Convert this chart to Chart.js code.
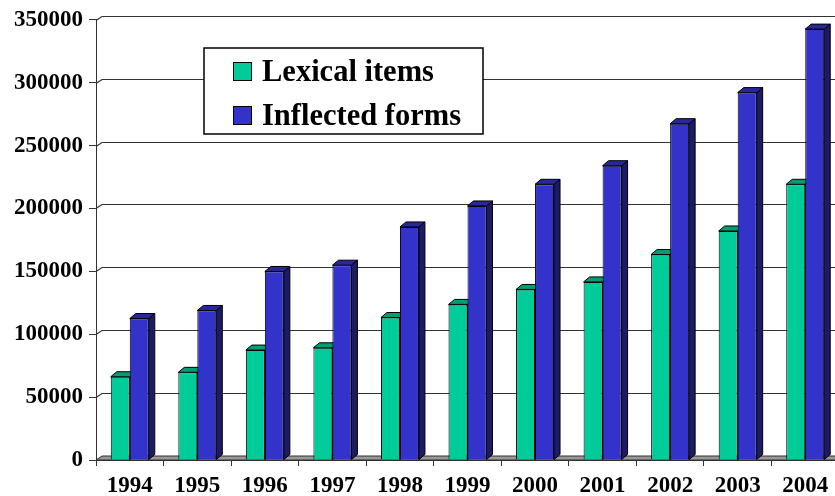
<!DOCTYPE html>
<html>
<head>
<meta charset="utf-8">
<script src="https://cdn.jsdelivr.net/npm/chart.js@4.4.1/dist/chart.umd.min.js"></script>
<style>
  html, body { margin: 0; padding: 0; background: #fff; overflow: hidden; }
  #wrap { width: 839px; height: 496px; }
</style>
</head>
<body>
<div id="wrap"><canvas id="chart"></canvas></div>
<script>
// data
var years          = ['1994', '1995', '1996', '1997', '1998', '1999', '2000', '2001', '2002', '2003', '2004'];
var lexicalItems   = [66200, 69700, 87400, 89200, 113300, 123700, 135600, 141600, 163400, 182100, 219200];
var inflectedForms = [112500, 118900, 149900, 154900, 185300, 202000, 219200, 234000, 267400, 292100, 342600];
var seriesNames    = ['Lexical items', 'Inflected forms'];
var yMax  = 350000;
var yStep = 50000;

var serif = "'Liberation Serif', 'Times New Roman', serif";
var DX = 6, DY = 5;   // fake 3d depth of the bars
var GX = 6, GY = 4;   // depth of the back wall / floor

// walls, floor and the side/top faces of the bars (front faces are drawn by chart.js on top)
var depthPlugin = {
    id: 'depth',
    beforeDatasetsDraw: function(chart) {
        var ctx = chart.ctx, area = chart.chartArea, y = chart.scales.y;
        ctx.save();

        // gridlines on the back wall
        ctx.strokeStyle = '#333';
        ctx.lineWidth = 1.2;
        y.ticks.forEach(function(t) {
            if (t.value === 0) return;
            var py = Math.round(y.getPixelForValue(t.value)) + 0.5;
            ctx.beginPath();
            ctx.moveTo(area.left, py);
            ctx.lineTo(area.left + GX, py - GY);
            ctx.lineTo(area.right + GX, py - GY);
            ctx.stroke();
        });

        // floor
        var b = area.bottom;
        ctx.beginPath();
        ctx.moveTo(area.left, b);
        ctx.lineTo(area.left + GX, b - GY);
        ctx.lineTo(area.right + GX, b - GY);
        ctx.lineTo(area.right, b);
        ctx.closePath();
        ctx.fillStyle = '#999';
        ctx.fill();
        ctx.lineWidth = 1;
        ctx.strokeStyle = '#303030';
        ctx.stroke();

        // bar depth faces
        ctx.strokeStyle = '#000';
        chart.data.datasets.forEach(function(ds, i) {
            var meta = chart.getDatasetMeta(i);
            meta.data.forEach(function(bar) {
                var p = bar.getProps(['x', 'y', 'base', 'width'], true);
                var l = p.x - p.width / 2, r = p.x + p.width / 2;
                // right side
                ctx.beginPath();
                ctx.moveTo(r, p.y);
                ctx.lineTo(r + DX, p.y - DY);
                ctx.lineTo(r + DX, p.base - DY);
                ctx.lineTo(r, p.base);
                ctx.closePath();
                ctx.fillStyle = ds.sideColor;
                ctx.fill();
                ctx.stroke();
                // top
                ctx.beginPath();
                ctx.moveTo(l, p.y);
                ctx.lineTo(l + DX, p.y - DY);
                ctx.lineTo(r + DX, p.y - DY);
                ctx.lineTo(r, p.y);
                ctx.closePath();
                ctx.fillStyle = ds.topColor;
                ctx.fill();
                ctx.stroke();
            });
        });
        ctx.restore();
    },
    afterDatasetsDraw: function(chart) {
        // boxed legend inside the plot
        var ctx = chart.ctx;
        ctx.save();
        ctx.fillStyle = '#fff';
        ctx.fillRect(204, 48, 279, 86);
        ctx.strokeStyle = '#000';
        ctx.lineWidth = 1.5;
        ctx.strokeRect(204, 48, 279, 86);
        ctx.font = 'bold 30.5px ' + serif;
        ctx.textBaseline = 'alphabetic';
        ctx.textAlign = 'left';
        var rows = [62, 106];
        chart.data.datasets.forEach(function(ds, i) {
            ctx.fillStyle = ds.backgroundColor;
            ctx.fillRect(233, rows[i], 18, 18);
            ctx.lineWidth = 1;
            ctx.strokeRect(233.5, rows[i] + 0.5, 18, 18);
            ctx.fillStyle = '#000';
            ctx.fillText(ds.label, 262, rows[i] + 19);
        });
        ctx.restore();
    }
};

var tickFont = { family: serif, size: 23, weight: 'bold' };

new Chart(document.getElementById('chart'), {
    type: 'bar',
    data: {
        labels: years,
        datasets: [{
            label: seriesNames[0],
            data: lexicalItems,
            backgroundColor: '#00CC99',
            sideColor: '#007a5c',
            topColor: '#009c74',
            borderColor: '#000',
            borderWidth: 1
        }, {
            label: seriesNames[1],
            data: inflectedForms,
            backgroundColor: '#3333CC',
            sideColor: '#1c1c66',
            topColor: '#28289c',
            borderColor: '#000',
            borderWidth: 1
        }]
    },
    options: {
        responsive: true,
        maintainAspectRatio: false,
        animation: false,
        categoryPercentage: 0.5625,
        barPercentage: 1,
        layout: { padding: { top: 19.5, right: 0, bottom: 0, left: 0 } },
        plugins: {
            legend: { display: false },
            tooltip: { enabled: false }
        },
        scales: {
            x: {
                grid: { drawOnChartArea: false, drawTicks: true, tickLength: 6, color: '#333', offset: true },
                border: { display: true, color: '#333' },
                ticks: { font: tickFont, color: '#000', padding: 6, maxRotation: 0, autoSkip: false },
                afterFit: function(s) { s.height = 36; }
            },
            y: {
                min: 0,
                max: yMax,
                grid: { drawOnChartArea: false, tickLength: 7, color: '#333' },
                border: { color: '#333' },
                ticks: {
                    stepSize: yStep,
                    font: tickFont,
                    color: '#000',
                    padding: 6,
                    callback: function(v) { return String(v); }
                },
                afterFit: function(s) { s.width = 96; }
            }
        }
    },
    plugins: [depthPlugin]
});
</script>
</body>
</html>
